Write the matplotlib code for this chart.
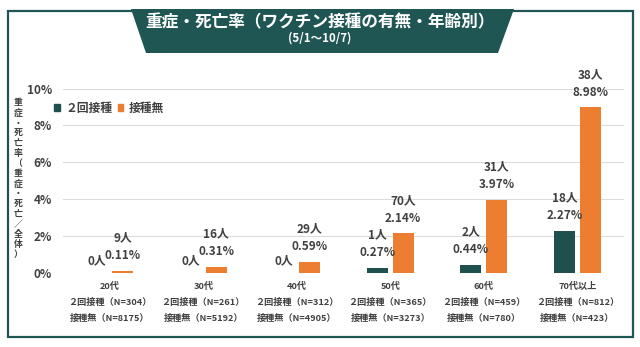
import matplotlib
matplotlib.use("Agg")
import matplotlib.pyplot as plt
from matplotlib.patches import Polygon, Rectangle, Patch
import numpy as np

plt.rcParams['font.family'] = ['Noto Sans CJK JP', 'DejaVu Sans']

# --- data -------------------------------------------------------------
ages = ['20代', '30代', '40代', '50代', '60代', '70代以上']
vacc_pct = [0.0, 0.0, 0.0, 0.27, 0.44, 2.27]        # ２回接種 (%)
vacc_cnt = [0, 0, 0, 1, 2, 18]
unvacc_pct = [0.11, 0.31, 0.59, 2.14, 3.97, 8.98]   # 接種無 (%)
unvacc_cnt = [9, 16, 29, 70, 31, 38]
n_vacc = [304, 261, 312, 365, 459, 812]
n_unvacc = [8175, 5192, 4905, 3273, 780, 423]
yticks = [0, 2, 4, 6, 8, 10]
series_names = ['２回接種', '接種無']

# --- style ------------------------------------------------------------
TEAL = '#1f504e'
BANNER = '#1f5653'
ORANGE = '#ed7d31'
TXT = '#404040'
GRID = '#dcdcdc'

W, H = 640, 347
fig = plt.figure(figsize=(W / 100, H / 100), dpi=100)
fig.patch.set_facecolor('white')


def fx(px):
    return px / W


def fy(py):
    return 1 - py / H


# outer frame
fig.patches.append(Rectangle((fx(8), fy(337)), fx(625), (337 - 11) / H,
                             transform=fig.transFigure, fill=False,
                             edgecolor=BANNER, linewidth=1.6))
# title banner
banner = [(fx(131), fy(9)), (fx(514), fy(9)), (fx(498), fy(53)), (fx(146), fy(53))]
fig.patches.append(Polygon(banner, closed=True, transform=fig.transFigure,
                           facecolor=BANNER, edgecolor='none'))
fig.text(fx(320), fy(22), '重症・死亡率（ワクチン接種の有無・年齢別）',
         color='white', fontsize=12, fontweight='bold', ha='center', va='center')
fig.text(fx(320), fy(38), '(5/1～10/7)', color='white', fontsize=8.3,
         fontweight='bold', ha='center', va='center')

# --- axes -------------------------------------------------------------
ax = fig.add_axes([fx(63), 74.3 / H, 561 / W, 184 / H])
x = np.arange(len(ages))
bw = 0.225
off = 0.137
b1 = ax.bar(x - off, vacc_pct, bw, color=TEAL, label=series_names[0], zorder=3)
b2 = ax.bar(x + off, unvacc_pct, bw, color=ORANGE, label=series_names[1], zorder=3)

ax.set_xlim(-0.5, 5.5)
ax.set_ylim(0, 10)
ax.set_yticks(yticks)
ax.set_yticklabels([f'{t}%' for t in yticks], fontsize=8.5,
                   fontweight='bold', color=TXT)
ax.tick_params(axis='y', length=0, pad=8)
ax.set_xticks([])
ax.grid(axis='y', color=GRID, linewidth=0.8, zorder=0)
for s in ax.spines.values():
    s.set_visible(False)

# value labels above each bar
for xs, pcts, cnts in ((x - off, vacc_pct, vacc_cnt), (x + off, unvacc_pct, unvacc_cnt)):
    for xi, p, c in zip(xs, pcts, cnts):
        if c == 0:
            ax.annotate(f'{c}人', (xi, p), xytext=(0, 12), textcoords='offset pixels',
                        ha='center', va='center', fontsize=8.5, fontweight='bold',
                        color=TXT, annotation_clip=False)
            continue
        ax.annotate(f'{p:.2f}%', (xi, p), xytext=(0, 15), textcoords='offset pixels',
                    ha='center', va='center', fontsize=8.5, fontweight='bold',
                    color=TXT, annotation_clip=False)
        ax.annotate(f'{c}人', (xi, p), xytext=(0, 33), textcoords='offset pixels',
                    ha='center', va='center', fontsize=8.5, fontweight='bold',
                    color=TXT, annotation_clip=False)

# category labels (three lines under each group)
for xi, age, nv, nu in zip(x, ages, n_vacc, n_unvacc):
    lines = [(age, 13.5), (f'２回接種（N={nv}）', 29.5), (f'接種無（N={nu}）', 45.5)]
    for txt, dy in lines:
        ax.annotate(txt, (xi, 0), xycoords=('data', 'axes fraction'),
                    xytext=(0, -dy), textcoords='offset pixels',
                    ha='center', va='center', fontsize=6.6, fontweight='bold',
                    color=TXT, annotation_clip=False)

# legend
ax.legend(handles=[Patch(color=TEAL), Patch(color=ORANGE)], labels=series_names,
          loc='center left', bbox_to_anchor=(fx(54), fy(108)),
          bbox_transform=fig.transFigure, frameon=False, ncol=2,
          handlelength=0.5, handleheight=0.5, handletextpad=0.45,
          columnspacing=0.45, borderpad=0, borderaxespad=0,
          prop={'size': 8.5, 'weight': 'bold'}, labelcolor=TXT)

# vertical axis title, stacked character by character
ylabel = '重症・死亡率（重症・死亡／全体）'
y0, step = 103, 10.1
for i, ch in enumerate(ylabel):
    fig.text(fx(18), fy(y0 + i * step), ch, fontsize=6.4, fontweight='bold',
             color=TXT, ha='center', va='center')

fig.savefig('out.png', dpi=100)
